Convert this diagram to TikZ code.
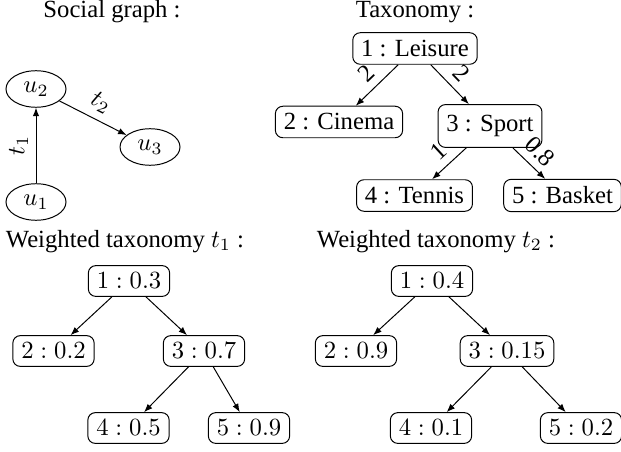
\documentclass[tikz,border=0pt]{standalone}
\usepackage{fontspec}
\setmainfont{Liberation Serif}
\usetikzlibrary{arrows.meta,shapes.geometric}
\begin{document}
\begin{tikzpicture}[x=0.405pt,y=-0.405pt,
  box/.style={draw, rounded corners=3pt, inner xsep=3.4pt, inner ysep=3pt, line width=0.4pt},
  usr/.style={draw, ellipse, minimum width=24.3pt, minimum height=14.8pt, inner sep=0pt, line width=0.4pt},
  arr/.style={-{Latex[length=3.4pt,width=2.6pt]}, line width=0.4pt},
  lbl/.style={above, sloped, inner sep=3pt},
  ttl/.style={anchor=base, inner sep=0pt}]
\useasboundingbox (0,0) rectangle (621,451);
% titles
\node[ttl] (ts) at (112,18) {Social graph :};
\node[ttl] (tt) at (415,18) {Taxonomy :};
\node[ttl] (tw1) at (125,247) {Weighted taxonomy $t_1$ :};
\node[ttl] (tw2) at (436,247) {Weighted taxonomy $t_2$ :};
% social graph
\node[usr] (u2) at (36,89) {$u_2$};
\node[usr] (u1) at (36,202) {$u_1$};
\node[usr] (u3) at (150,147) {$u_3$};
\draw[arr] (u1) -- node[lbl] {$t_1$} (u2);
\draw[arr] (u2) -- node[lbl] {$t_2$} (u3);
% taxonomy
\node[box] (l1) at (415,48.5) {1 : Leisure};
\node[box] (l2) at (339,122) {2 : Cinema};
\node[box, inner ysep=4.3pt] (l3) at (490,126) {3 : Sport};
\node[box] (l4) at (414.5,195.5) {4 : Tennis};
\node[box] (l5) at (562.5,195.5) {5 : Basket};
\draw[arr] (l1) -- node[lbl] {2} (l2);
\draw[arr] (l1) -- node[lbl] {2} (l3);
\draw[arr] (l3) -- node[lbl] {1} (l4);
\draw[arr] (l3) -- node[lbl] {0.8} (l5);
% weighted t1
\node[box] (a1) at (129,281) {$1:0.3$};
\node[box] (a2) at (53.5,351) {$2:0.2$};
\node[box] (a3) at (204,351) {$3:0.7$};
\node[box] (a4) at (128.5,428) {$4:0.5$};
\node[box] (a5) at (249,428) {$5:0.9$};
\draw[arr] (a1) -- (a2);
\draw[arr] (a1) -- (a3);
\draw[arr] (a3) -- (a4);
\draw[arr] (a3) -- (a5);
% weighted t2
\node[box] (b1) at (432,281) {$1:0.4$};
\node[box] (b2) at (356,351) {$2:0.9$};
\node[box] (b3) at (507,351) {$3:0.15$};
\node[box] (b4) at (431,428) {$4:0.1$};
\node[box] (b5) at (581,428) {$5:0.2$};
\draw[arr] (b1) -- (b2);
\draw[arr] (b1) -- (b3);
\draw[arr] (b3) -- (b4);
\draw[arr] (b3) -- (b5);
\end{tikzpicture}
\end{document}
